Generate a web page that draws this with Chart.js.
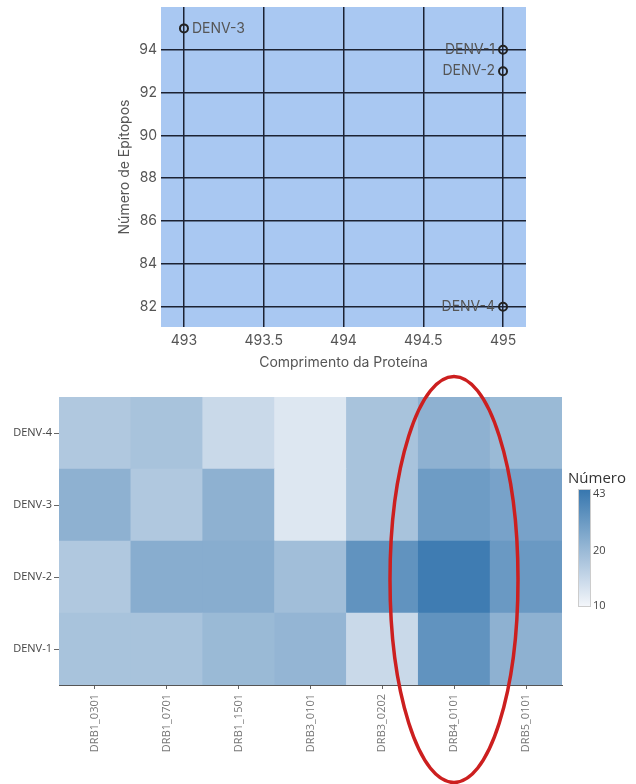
<!DOCTYPE html>
<html lang="pt">
<head>
<meta charset="UTF-8">
<title>Epítopos por sorotipo</title>
<script src="https://cdn.jsdelivr.net/npm/chart.js"></script>
<style>
  body { margin: 0; background: #fff; }
  #scatter { position: absolute; left: 0; top: 0; }
  #heat { position: absolute; left: 0; top: 370px; }
</style>
</head>
<body>
<canvas id="scatter" width="636" height="375"></canvas>
<canvas id="heat" width="636" height="414"></canvas>
<script>
// dispersão: comprimento x número de epítopos
const serotypes = ['DENV-1', 'DENV-2', 'DENV-3', 'DENV-4'];
const proteinLength = [495, 495, 493, 495];
const epitopeCount = [94, 93, 95, 82];
const xTicks = [493, 493.5, 494, 494.5, 495];
const yTicks = [82, 84, 86, 88, 90, 92, 94];

// mapa de calor: alelos x sorotipos
const alleles = ['DRB1_0301', 'DRB1_0701', 'DRB1_1501', 'DRB3_0101', 'DRB3_0202', 'DRB4_0101', 'DRB5_0101'];
const heatRows = ['DENV-1', 'DENV-2', 'DENV-3', 'DENV-4'];
const denv1 = [18, 18, 20, 21, 14, 31, 22];
const denv2 = [17, 23, 23, 19, 31, 40, 29];
const denv3 = [22, 17, 22, 12, 18, 28, 26];
const denv4 = [17, 18, 14, 12, 18, 22, 20];
const colorTicks = [10, 20, 43];

const cMin = 10, cMax = 43;
const lowRGB = [245, 247, 251], highRGB = [54, 118, 174];
function colorT(t) {
  t = Math.max(0, Math.min(1, t));
  const c = lowRGB.map((l, i) => Math.round(l + (highRGB[i] - l) * t));
  return 'rgb(' + c.join(',') + ')';
}
function tOf(v) { return Math.log(v / cMin) / Math.log(cMax / cMin); }
function colorFor(v) { return colorT(tOf(v)); }

const plotBg = {
  id: 'plotBg',
  beforeDraw(chart) {
    const a = chart.chartArea, ctx = chart.ctx;
    ctx.save();
    ctx.fillStyle = '#a9c8f2';
    ctx.fillRect(a.left, a.top, a.right - a.left, a.bottom - a.top);
    ctx.restore();
  }
};

const pointLabels = {
  id: 'pointLabels',
  afterDatasetsDraw(chart) {
    const ctx = chart.ctx;
    const meta = chart.getDatasetMeta(0);
    ctx.save();
    ctx.font = '14px Inter';
    ctx.fillStyle = '#555';
    ctx.textBaseline = 'middle';
    meta.data.forEach((p, i) => {
      if (proteinLength[i] === xTicks[0]) {
        ctx.textAlign = 'left';
        ctx.fillText(serotypes[i], p.x + 8, p.y);
      } else {
        ctx.textAlign = 'right';
        ctx.fillText(serotypes[i], p.x - 8, p.y);
      }
    });
    ctx.restore();
  }
};

new Chart(document.getElementById('scatter'), {
  type: 'scatter',
  data: {
    datasets: [{
      data: proteinLength.map((x, i) => ({ x: x, y: epitopeCount[i] })),
      pointRadius: 4,
      pointBorderWidth: 2,
      borderColor: '#222',
      backgroundColor: 'rgba(0,0,0,0)'
    }]
  },
  options: {
    responsive: false,
    animation: false,
    layout: { padding: { left: 116, right: 110, top: 7, bottom: 0 } },
    plugins: { legend: { display: false }, tooltip: { enabled: false } },
    scales: {
      x: {
        type: 'linear',
        min: 492.856,
        max: 495.144,
        afterBuildTicks: s => { s.ticks = xTicks.map(v => ({ value: v })); },
        afterFit: s => { s.height = 48; s.paddingLeft = 0; s.paddingRight = 0; },
        grid: { color: '#1c2233', lineWidth: 1.5, drawTicks: false },
        border: { display: false },
        ticks: { color: '#555', font: { family: 'Inter', size: 14 }, padding: 5, maxRotation: 0, callback: v => String(v) },
        title: { display: true, text: 'Comprimento da Proteína', color: '#555', font: { family: 'Inter', size: 14 }, padding: { top: 0, bottom: 4 } }
      },
      y: {
        min: 81.05,
        max: 96,
        afterBuildTicks: s => { s.ticks = yTicks.map(v => ({ value: v })); },
        afterFit: s => { s.width = 45; s.paddingTop = 0; s.paddingBottom = 0; },
        grid: { color: '#1c2233', lineWidth: 1.5, drawTicks: false },
        border: { display: false },
        ticks: { color: '#555', font: { family: 'Inter', size: 14 }, padding: 4 },
        title: { display: true, text: 'Número de Epítopos', color: '#555', font: { family: 'Inter', size: 14 }, padding: 0 }
      }
    }
  },
  plugins: [plotBg, pointLabels]
});

const heatExtras = {
  id: 'heatExtras',
  afterDraw(chart) {
    const ctx = chart.ctx;
    ctx.save();
    // barra de cores
    const bx = 578, bw = 13, top = 119, bottom = 237;
    const g = ctx.createLinearGradient(0, bottom, 0, top);
    for (let i = 0; i <= 10; i++) g.addColorStop(i / 10, colorT(i / 10));
    ctx.fillStyle = g;
    ctx.fillRect(bx, top, bw, bottom - top);
    ctx.strokeStyle = '#ccc';
    ctx.lineWidth = 1;
    ctx.strokeRect(bx + 0.5, top + 0.5, bw - 1, bottom - top - 1);
    ctx.fillStyle = '#333';
    ctx.font = '15px "Open Sans"';
    ctx.textAlign = 'left';
    ctx.textBaseline = 'middle';
    ctx.fillText('Número', 568, 109);
    ctx.font = '11px "Open Sans"';
    ctx.fillStyle = '#444';
    colorTicks.forEach(v => {
      const y = bottom - tOf(v) * (bottom - top);
      ctx.fillText(String(v), bx + bw + 2, Math.min(bottom - 1, Math.max(top + 5, y)));
    });
    // elipse de destaque
    ctx.strokeStyle = '#cc1f1f';
    ctx.lineWidth = 3.5;
    ctx.beginPath();
    ctx.ellipse(454, 209.5, 64, 203, 0, 0, Math.PI * 2);
    ctx.stroke();
    ctx.restore();
  }
};

const heatValues = [denv1, denv2, denv3, denv4];
new Chart(document.getElementById('heat'), {
  type: 'bar',
  data: {
    labels: alleles,
    datasets: heatRows.map((name, r) => ({
      label: name,
      data: alleles.map(() => 1),
      backgroundColor: heatValues[r].map(colorFor),
      borderWidth: 0,
      barPercentage: 1,
      categoryPercentage: 1
    }))
  },
  options: {
    responsive: false,
    animation: false,
    layout: { padding: { left: 0, right: 74, top: 27, bottom: 0 } },
    plugins: { legend: { display: false }, tooltip: { enabled: false } },
    scales: {
      x: {
        stacked: true,
        afterFit: s => { s.height = 99; },
        grid: { display: true, drawOnChartArea: false, offset: false, tickLength: 4, color: '#666' },
        border: { display: true, color: '#555', width: 1 },
        ticks: { color: '#777', font: { family: 'Open Sans', size: 11 }, padding: 5, minRotation: 90, maxRotation: 90 }
      },
      y: {
        stacked: true,
        min: 0,
        max: heatRows.length,
        afterBuildTicks: s => { s.ticks = heatRows.map((n, i) => ({ value: i + 0.5 })); },
        afterFit: s => { s.width = 59; },
        grid: { display: true, drawOnChartArea: false, tickLength: 5, color: '#666' },
        border: { display: true, color: '#555', width: 1 },
        ticks: {
          color: '#444',
          font: { family: 'Open Sans', size: 11 },
          padding: 2,
          callback: v => heatRows[Math.floor(v)]
        }
      }
    }
  },
  plugins: [heatExtras]
});
</script>
</body>
</html>
